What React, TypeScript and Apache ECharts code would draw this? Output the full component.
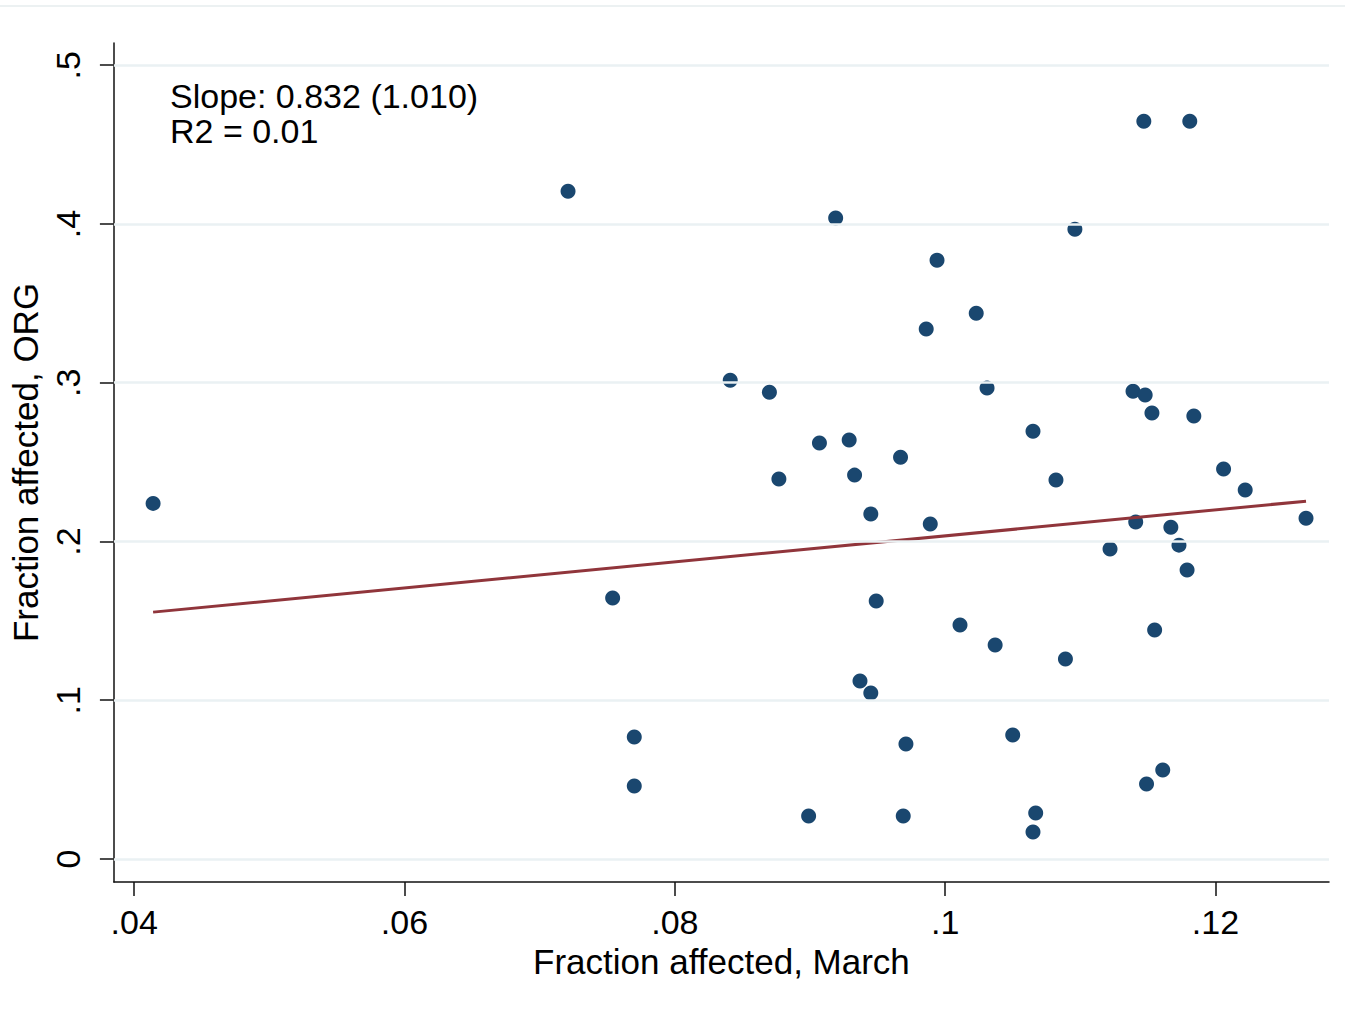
import React, { useEffect, useRef } from "react";
import * as echarts from "echarts";

// Fraction affected, March (x) and ORG (y) per unit
const marchFraction = [
  0.0414, 0.0721, 0.0754, 0.077, 0.077, 0.0841, 0.087, 0.0877, 0.0899, 0.0907,
  0.0919, 0.0929, 0.0933, 0.0937, 0.0945, 0.0945, 0.0949, 0.0967, 0.0969, 0.0971,
  0.0986, 0.0989, 0.0994, 0.1011, 0.1023, 0.1031, 0.1037, 0.105, 0.1065, 0.1065,
  0.1067, 0.1082, 0.1089, 0.1096, 0.1122, 0.1139, 0.1141, 0.1147, 0.1148, 0.1149,
  0.1153, 0.1155, 0.1161, 0.1167, 0.1173, 0.1179, 0.1181, 0.1184, 0.1206, 0.1222,
  0.1267,
];
const orgFraction = [
  0.224, 0.4206, 0.1644, 0.0768, 0.046, 0.3016, 0.294, 0.2393, 0.0271, 0.262,
  0.4037, 0.2639, 0.2418, 0.1121, 0.2173, 0.1045, 0.1625, 0.2531, 0.0271, 0.0724,
  0.3338, 0.211, 0.3772, 0.1474, 0.3438, 0.2966, 0.1348, 0.0781, 0.017, 0.2695,
  0.029, 0.2387, 0.126, 0.3967, 0.1952, 0.2947, 0.2122, 0.4647, 0.2922, 0.0472,
  0.2809, 0.1442, 0.056, 0.209, 0.1977, 0.182, 0.4647, 0.279, 0.2456, 0.2324,
  0.2147,
];
// Fitted line end points
const fitX = [0.0414, 0.1267];
const fitY = [0.1555, 0.2254];

const xTicks = [0.04, 0.06, 0.08, 0.1, 0.12];
const yTicks = [0, 0.1, 0.2, 0.3, 0.4, 0.5];
const annotationLines = ["Slope: 0.832 (1.010)", "R2 = 0.01"];
const xTitle = "Fraction affected, March";
const yTitle = "Fraction affected, ORG";

const FONT = "'Liberation Sans', Arial, sans-serif";

function fmt(v: number): string {
  if (v === 0) return "0";
  return String(+v.toFixed(2)).replace(/^0/, "");
}

export default function App() {
  const ref = useRef<HTMLDivElement>(null);
  useEffect(() => {
    document.body.style.margin = "0";
    const chart = echarts.init(ref.current!, undefined, { renderer: "svg" });
    const axisLine = { show: true, lineStyle: { color: "#111", width: 1.5 } };
    chart.setOption({
      animation: false,
      backgroundColor: "#ffffff",
      grid: { left: 113, right: 16, top: 43, bottom: 132, containLabel: false },
      xAxis: {
        type: "value",
        min: 0.0385,
        max: 0.1284,
        axisLine: { ...axisLine, onZero: false },
        axisTick: { show: true, customValues: xTicks, length: 14, lineStyle: { color: "#111", width: 1.5 } },
        axisLabel: {
          customValues: xTicks,
          formatter: (v: number) => fmt(v),
          fontSize: 34,
          color: "#000",
          fontFamily: FONT,
          margin: 23,
        },
        splitLine: { show: false },
        name: xTitle,
        nameLocation: "middle",
        nameGap: 54,
        nameTextStyle: { fontSize: 35, color: "#000", fontFamily: FONT },
      },
      yAxis: {
        type: "value",
        min: -0.0145,
        max: 0.514,
        axisLine: { ...axisLine, onZero: false },
        axisTick: { show: true, customValues: yTicks, length: 14, lineStyle: { color: "#111", width: 1.5 } },
        axisLabel: {
          customValues: yTicks,
          formatter: (v: number) => fmt(v),
          rotate: 90,
          fontSize: 34,
          color: "#000",
          fontFamily: FONT,
          margin: 29,
        },
        splitLine: { show: false },
        name: yTitle,
        nameLocation: "middle",
        nameGap: 60,
        nameTextStyle: { fontSize: 35, color: "#000", fontFamily: FONT },
      },
      graphic: [
        {
          type: "line",
          shape: { x1: 0, y1: 6, x2: 1345, y2: 6 },
          style: { stroke: "#e6ecee", lineWidth: 1.5 },
          silent: true,
        },
        {
          type: "text",
          left: 170,
          top: 78,
          style: {
            text: annotationLines.join("\n"),
            fontSize: 34,
            lineHeight: 35,
            fontFamily: FONT,
            fill: "#000",
          },
          silent: true,
        },
      ],
      series: [
        {
          type: "line",
          data: [],
          z: 1,
          silent: true,
          markLine: {
            silent: true,
            symbol: ["none", "none"],
            label: { show: false },
            lineStyle: { color: "#eaf1f3", type: "solid", width: 2.5 },
            data: yTicks.map((v) => ({ yAxis: v })),
          },
        },
        {
          type: "scatter",
          data: marchFraction.map((x, i) => [x, orgFraction[i]]),
          symbol: "circle",
          symbolSize: 15,
          itemStyle: { color: "#1a476f", opacity: 1 },
          z: 3,
        },
        {
          type: "line",
          data: fitX.map((x, i) => [x, fitY[i]]),
          showSymbol: false,
          lineStyle: { color: "#90353b", width: 3 },
          z: 4,
        },
      ],
    });
    return () => chart.dispose();
  }, []);
  return <div ref={ref} style={{ width: 1345, height: 1014 }} />;
}
